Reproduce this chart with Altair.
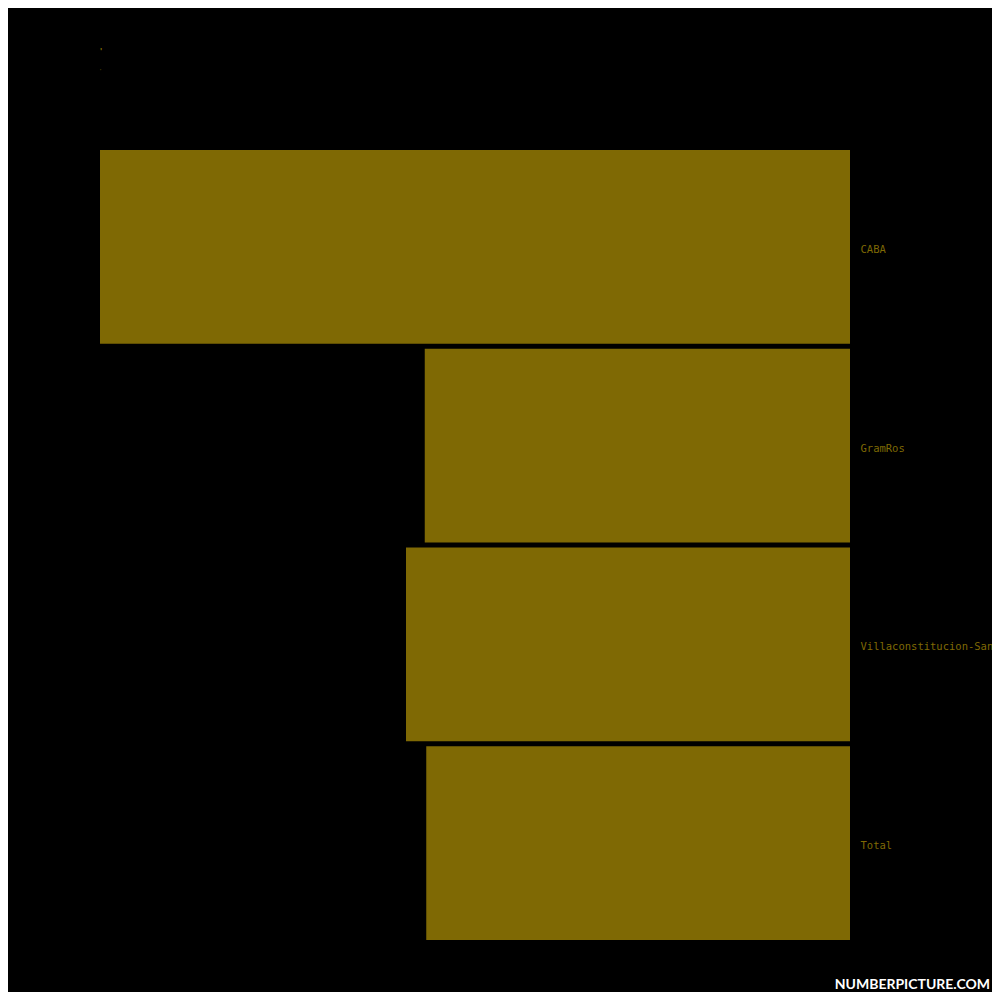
import altair as alt
import pandas as pd

categories = ["CABA", "GramRos", "Villaconstitucion-SanNicolas", "Total"]
values = [100.0, 56.7, 59.2, 56.5]

df = pd.DataFrame({"region": categories, "value": values})

bar_color = "#7f6904"

bars = alt.Chart(df).mark_bar(color=bar_color).encode(
    x=alt.X("value:Q", scale=alt.Scale(domain=[0, 100], reverse=True, nice=False), axis=None),
    y=alt.Y("region:N", sort=None, title=None,
            scale=alt.Scale(paddingInner=0.025, paddingOuter=0),
            axis=alt.Axis(orient="right", domain=False, ticks=False, labelPadding=10,
                          labelOffset=3,
                          labelFont="DejaVu Sans Mono", labelFontSize=10.5,
                          labelColor=bar_color, labelLimit=0, grid=False)),
)

watermark = alt.Chart(pd.DataFrame({"t": ["NUMBERPICTURE.COM"]})).mark_text(
    align="right", baseline="bottom", font="Lato", fontSize=14, fontWeight="bold",
    color="white"
).encode(text="t:N", x=alt.value(890), y=alt.value(842))

chart = alt.layer(bars, watermark).properties(
    width=750, height=790,
    background="black",
    padding={"left": 92, "top": 142, "right": 142, "bottom": 52},
    autosize=alt.AutoSizeParams(type="none"),
    title=alt.TitleParams(text="'", subtitle="'", anchor="start", fontSize=9,
                          subtitleFontSize=6, color=bar_color, subtitleColor=bar_color,
                          offset=76, subtitlePadding=12),
).configure_view(stroke=None)

chart.save("out.html", embed_options={"renderer": "svg", "actions": False})
